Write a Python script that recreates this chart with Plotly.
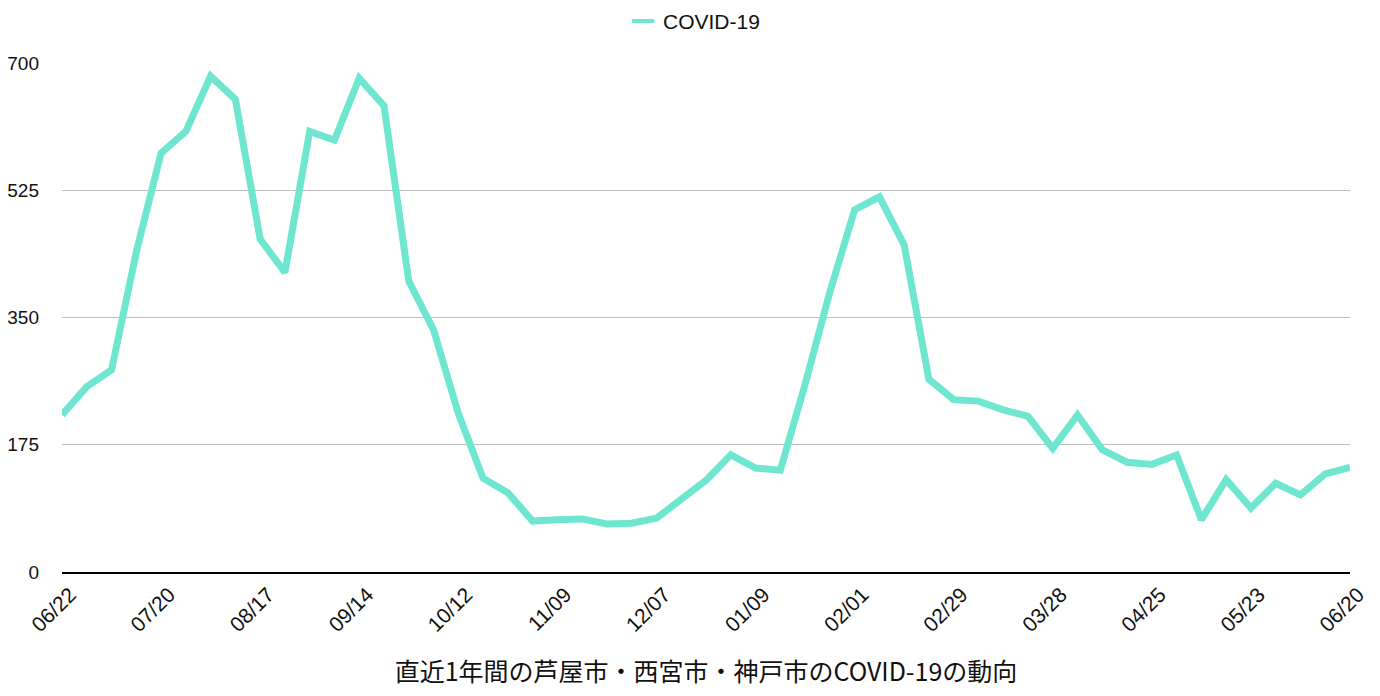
import plotly.graph_objects as go

dates = [
    "06/22", "06/29", "07/06", "07/13", "07/20", "07/27", "08/03", "08/10",
    "08/17", "08/24", "08/31", "09/07", "09/14", "09/21", "09/28", "10/05",
    "10/12", "10/19", "10/26", "11/02", "11/09", "11/16", "11/23", "11/30",
    "12/07", "12/14", "12/21", "12/28", "01/09", "01/11", "01/18", "01/25",
    "02/01", "02/08", "02/15", "02/22", "02/29", "03/07", "03/14", "03/21",
    "03/28", "04/04", "04/11", "04/18", "04/25", "05/02", "05/09", "05/16",
    "05/23", "05/30", "06/06", "06/13", "06/20",
]
covid = [
    216, 255, 278, 440, 576, 606, 682, 650, 458, 412, 606, 594, 679, 641, 400, 333,
    218, 129, 109, 70, 72, 73, 66, 67, 74, 99, 126, 161, 143, 140, 258, 385,
    498, 516, 450, 265, 237, 235, 223, 214, 170, 216, 168, 151, 148, 161, 72, 127,
    88, 122, 106, 135, 144,
]
tick_labels = dates[::4]
y_ticks = [0, 175, 350, 525, 700]
series_name = "COVID-19"
x_title = "直近1年間の芦屋市・西宮市・神戸市のCOVID-19の動向"
line_color = "#6ee6d0"

fig = go.Figure()
fig.add_trace(go.Scatter(
    x=dates, y=covid, mode="lines", name=series_name,
    line=dict(color=line_color, width=7), showlegend=False,
))
# legend entry with a short bar symbol
fig.add_trace(go.Scatter(
    x=[None], y=[None], mode="markers", name=series_name,
    marker=dict(symbol="line-ew-open", size=16, color=line_color,
                line=dict(color=line_color, width=4)),
))

fig.update_layout(
    width=1372, height=688,
    margin=dict(l=54, r=30, t=55, b=124, autoexpand=False),
    paper_bgcolor="white", plot_bgcolor="white",
    font=dict(family="Liberation Sans, Arial, sans-serif", size=19, color="#111"),
    showlegend=True,
    legend=dict(orientation="h", xref="container", yref="paper",
                x=0.5, xanchor="center", y=1.082, yanchor="middle",
                font=dict(size=21), itemwidth=30, tracegroupgap=0),
    xaxis=dict(
        type="category", range=[0, len(dates) - 1],
        tickmode="array", tickvals=tick_labels, ticktext=tick_labels,
        tickangle=-45, showgrid=False, showline=True, linecolor="black",
        linewidth=2, ticks="", tickfont=dict(size=21), automargin=False,
        ticklabelshift=8,
        title=dict(text=x_title, standoff=28,
                   font=dict(family="Noto Sans CJK JP", size=25, color="#111")),
    ),
    yaxis=dict(
        range=[0, 700], tickmode="array", tickvals=y_ticks,
        showgrid=True, gridcolor="#bdbdbd", gridwidth=1,
        zeroline=False, showline=False, ticks="", automargin=False,
        ticklabelstandoff=22, tickfont=dict(size=19),
    ),
)

fig.write_html("out.html")
